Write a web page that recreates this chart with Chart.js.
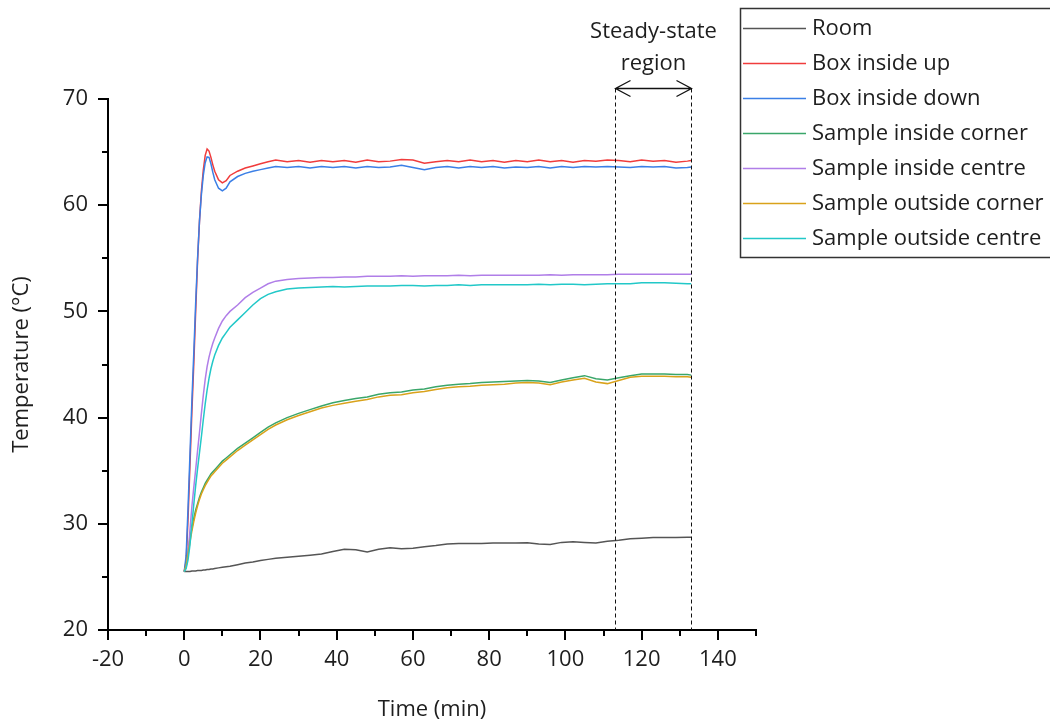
<!DOCTYPE html>
<html>
<head>
<meta charset="utf-8">
<script src="https://cdn.jsdelivr.net/npm/chart.js@4.4.1/dist/chart.umd.min.js"></script>
<style>
  body { margin: 0; background: #fff; }
  #wrap { width: 1050px; height: 721px; }
</style>
</head>
<body>
<div id="wrap"><canvas id="tempChart" width="1050" height="721"></canvas></div>
<script>
// time axis (min) shared by all series
const times = [0, 0.5, 1, 1.5, 2, 2.5, 3, 3.5, 4, 4.5, 5, 5.5, 6, 6.5, 7, 7.5, 8, 9, 10, 11, 12, 14, 16, 18, 20, 22,
    24, 27, 30, 33, 36, 39, 42, 45, 48, 51, 54, 57, 60, 63, 66, 69, 72, 75, 78, 81, 84, 87, 90, 93, 96, 99,
    102, 105, 108, 111, 114, 117, 120, 123, 126, 129, 132, 133];

const room = [25.5, 25.5, 25.5, 25.5, 25.55, 25.55, 25.55, 25.6, 25.6, 25.6, 25.65, 25.65, 25.7, 25.7, 25.75, 25.75, 25.8, 25.85, 25.9, 25.95, 26.0, 26.15, 26.3, 26.4, 26.55, 26.65,
    26.75, 26.85, 26.95, 27.05, 27.15, 27.4, 27.6, 27.55, 27.35, 27.6, 27.75, 27.65, 27.7, 27.85, 27.95, 28.1, 28.15, 28.15, 28.15, 28.2, 28.2, 28.2, 28.22, 28.1, 28.05, 28.25,
    28.3, 28.25, 28.2, 28.35, 28.45, 28.6, 28.65, 28.7, 28.7, 28.72, 28.73, 28.73];

const boxUp = [25.5, 26.5, 30.5, 35.5, 40.5, 45, 50, 54.8, 58.5, 61.3, 63.3, 64.7, 65.3, 65.1, 64.5, 63.8, 63.2, 62.4, 62.1, 62.3, 62.8, 63.2, 63.5, 63.7, 63.9, 64.1,
    64.25, 64.1, 64.2, 64.05, 64.2, 64.1, 64.2, 64.05, 64.25, 64.1, 64.15, 64.3, 64.25, 63.95, 64.1, 64.2, 64.1, 64.25, 64.1, 64.2, 64.05, 64.2, 64.1, 64.25, 64.1, 64.2,
    64.05, 64.2, 64.15, 64.25, 64.2, 64.1, 64.25, 64.15, 64.2, 64.05, 64.15, 64.2];

const boxDown = [25.5, 27, 31.5, 36.5, 41.5, 46, 50.8, 55, 58.5, 61, 62.8, 64, 64.55, 64.5, 63.9, 63.1, 62.4, 61.6, 61.35, 61.6, 62.2, 62.7, 63.0, 63.2, 63.35, 63.5,
    63.65, 63.55, 63.65, 63.5, 63.65, 63.55, 63.65, 63.5, 63.65, 63.55, 63.6, 63.75, 63.55, 63.35, 63.55, 63.65, 63.5, 63.65, 63.55, 63.65, 63.5, 63.6, 63.55, 63.65, 63.5, 63.65,
    63.55, 63.65, 63.6, 63.65, 63.6, 63.55, 63.65, 63.6, 63.65, 63.5, 63.55, 63.6];

const insideCorner = [25.5, 26.2, 27.4, 28.6, 29.6, 30.5, 31.3, 31.9, 32.5, 33.0, 33.4, 33.8, 34.1, 34.4, 34.7, 34.9, 35.1, 35.5, 35.9, 36.2, 36.5, 37.1, 37.6, 38.1, 38.6, 39.1,
    39.5, 40.0, 40.4, 40.75, 41.1, 41.4, 41.6, 41.8, 41.95, 42.2, 42.35, 42.4, 42.6, 42.7, 42.9, 43.05, 43.15, 43.2, 43.3, 43.35, 43.4, 43.45, 43.5, 43.45, 43.3, 43.55,
    43.75, 43.95, 43.65, 43.55, 43.75, 43.95, 44.1, 44.1, 44.1, 44.05, 44.05, 44.0];

const insideCentre = [25.5, 26.0, 27.2, 29.4, 31.6, 33.4, 35.1, 36.9, 38.6, 40.4, 42.1, 43.6, 44.8, 45.7, 46.4, 47.0, 47.5, 48.4, 49.1, 49.6, 50.0, 50.6, 51.3, 51.8, 52.2, 52.6,
    52.85, 53.0, 53.1, 53.15, 53.2, 53.2, 53.25, 53.25, 53.3, 53.3, 53.3, 53.35, 53.3, 53.35, 53.35, 53.35, 53.4, 53.35, 53.4, 53.4, 53.4, 53.4, 53.4, 53.4, 53.45, 53.4,
    53.45, 53.45, 53.45, 53.45, 53.5, 53.5, 53.5, 53.5, 53.5, 53.5, 53.5, 53.5];

const outsideCorner = [25.5, 26.0, 27.1, 28.3, 29.3, 30.2, 31.0, 31.7, 32.3, 32.8, 33.2, 33.6, 33.9, 34.2, 34.5, 34.7, 34.9, 35.3, 35.7, 36.0, 36.3, 36.9, 37.4, 37.9, 38.4, 38.9,
    39.3, 39.8, 40.2, 40.55, 40.9, 41.15, 41.35, 41.55, 41.7, 41.95, 42.1, 42.15, 42.35, 42.45, 42.65, 42.8, 42.9, 42.95, 43.05, 43.1, 43.15, 43.25, 43.3, 43.25, 43.1, 43.35,
    43.55, 43.7, 43.35, 43.2, 43.5, 43.8, 43.9, 43.9, 43.9, 43.85, 43.85, 43.8];

const outsideCentre = [25.5, 25.8, 26.6, 28.0, 29.9, 31.8, 33.6, 35.2, 36.7, 38.2, 39.8, 41.3, 42.6, 43.7, 44.6, 45.3, 45.9, 46.8, 47.5, 48.0, 48.5, 49.2, 49.9, 50.6, 51.2, 51.6,
    51.85, 52.1, 52.2, 52.25, 52.3, 52.35, 52.3, 52.35, 52.4, 52.4, 52.4, 52.45, 52.45, 52.4, 52.45, 52.45, 52.5, 52.45, 52.5, 52.5, 52.5, 52.5, 52.5, 52.55, 52.5, 52.55,
    52.55, 52.5, 52.55, 52.6, 52.6, 52.6, 52.7, 52.7, 52.7, 52.65, 52.6, 52.6];

const seriesNames = ['Room', 'Box inside up', 'Box inside down', 'Sample inside corner', 'Sample inside centre', 'Sample outside corner', 'Sample outside centre'];
const seriesData = [room, boxUp, boxDown, insideCorner, insideCentre, outsideCorner, outsideCentre];
const seriesColors = ['#555555', '#f03c3c', '#3b7fe6', '#3aa66a', '#b07ee8', '#d9a21b', '#22c8c8'];

const xTickLabels = [-20, 0, 20, 40, 60, 80, 100, 120, 140];
const yTickLabels = [20, 30, 40, 50, 60, 70];
const steadyStart = 113;
const steadyEnd = 133;

const FONT = "'Open Sans', sans-serif";
const TEXT = '#1e1e1e';

// axis ticks (major + minor), steady-state marker and the boxed legend
const decorPlugin = {
    id: 'decor',
    afterDraw(chart) {
        const ctx = chart.ctx;
        const xs = chart.scales.x;
        const ys = chart.scales.y;
        const area = chart.chartArea;
        ctx.save();

        // ticks
        ctx.strokeStyle = '#000';
        ctx.lineWidth = 2;
        ctx.beginPath();
        for (let v = -20; v <= 150; v += 10) {
            const px = Math.round(xs.getPixelForValue(v));
            const len = xTickLabels.includes(v) ? 10 : 6;
            ctx.moveTo(px, area.bottom);
            ctx.lineTo(px, area.bottom + len);
        }
        for (let v = 20; v <= 70; v += 5) {
            const py = Math.round(ys.getPixelForValue(v));
            const len = yTickLabels.includes(v) ? 10 : 6;
            ctx.moveTo(area.left, py);
            ctx.lineTo(area.left - len, py);
        }
        ctx.stroke();

        // steady-state region
        const x1 = Math.round(xs.getPixelForValue(steadyStart)) + 0.5;
        const x2 = Math.round(xs.getPixelForValue(steadyEnd)) + 0.5;
        const arrowY = Math.round(area.top - 11) + 0.5;
        ctx.lineWidth = 1;
        ctx.strokeStyle = '#111';
        ctx.setLineDash([4, 3]);
        ctx.beginPath();
        ctx.moveTo(x1, arrowY);
        ctx.lineTo(x1, area.bottom);
        ctx.moveTo(x2, arrowY);
        ctx.lineTo(x2, area.bottom);
        ctx.stroke();
        ctx.setLineDash([]);
        ctx.lineWidth = 1.3;
        ctx.beginPath();
        ctx.moveTo(x1, arrowY);
        ctx.lineTo(x2, arrowY);
        ctx.moveTo(x1 + 15, arrowY - 8);
        ctx.lineTo(x1, arrowY);
        ctx.lineTo(x1 + 15, arrowY + 8);
        ctx.moveTo(x2 - 15, arrowY - 8);
        ctx.lineTo(x2, arrowY);
        ctx.lineTo(x2 - 15, arrowY + 8);
        ctx.stroke();

        ctx.fillStyle = TEXT;
        ctx.font = '22px ' + FONT;
        ctx.textAlign = 'center';
        ctx.textBaseline = 'middle';
        const cx = (x1 + x2) / 2;
        ctx.fillText('Steady-state', cx, 32);
        ctx.fillText('region', cx, 64);

        // legend box
        ctx.strokeStyle = '#333';
        ctx.lineWidth = 1.5;
        ctx.strokeRect(740.5, 8.5, 400, 249);
        ctx.textAlign = 'left';
        seriesNames.forEach((name, i) => {
            const ly = 28 + i * 35;
            ctx.strokeStyle = seriesColors[i];
            ctx.lineWidth = 1.5;
            ctx.beginPath();
            ctx.moveTo(743, ly + 0.5);
            ctx.lineTo(806, ly + 0.5);
            ctx.stroke();
            ctx.fillStyle = TEXT;
            ctx.fillText(name, 812, ly + 1);
        });

        ctx.restore();
    }
};

const datasets = seriesNames.map((name, i) => ({
    label: name,
    data: times.map((t, j) => ({ x: t, y: seriesData[i][j] })),
    borderColor: seriesColors[i],
    backgroundColor: seriesColors[i],
    borderWidth: 1.5,
    pointRadius: 0,
    tension: 0,
    order: seriesNames.length - i
}));

new Chart(document.getElementById('tempChart'), {
    type: 'line',
    data: { datasets: datasets },
    options: {
        responsive: false,
        animation: false,
        layout: { padding: { left: 0, right: 294, top: 99, bottom: 0 } },
        plugins: {
            legend: { display: false },
            tooltip: { enabled: false }
        },
        scales: {
            x: {
                type: 'linear',
                min: -20,
                max: 150,
                grid: { display: false },
                border: { display: true, color: '#000', width: 2 },
                afterBuildTicks: (scale) => { scale.ticks = xTickLabels.map(v => ({ value: v })); },
                ticks: {
                    padding: 9,
                    autoSkip: false,
                    color: TEXT,
                    font: { family: FONT, size: 22 },
                    maxRotation: 0
                },
                title: {
                    display: true,
                    text: 'Time (min)',
                    color: TEXT,
                    font: { family: FONT, size: 22, lineHeight: 1 },
                    padding: { top: 0, bottom: 0 }
                },
                afterFit: (scale) => { scale.height = 91; }
            },
            y: {
                type: 'linear',
                min: 20,
                max: 70,
                grid: { display: false },
                border: { display: true, color: '#000', width: 2 },
                afterBuildTicks: (scale) => { scale.ticks = yTickLabels.map(v => ({ value: v })); },
                ticks: {
                    padding: 12,
                    color: TEXT,
                    font: { family: FONT, size: 22 }
                },
                title: {
                    display: true,
                    text: 'Temperature (°C)',
                    color: TEXT,
                    font: { family: FONT, size: 22, lineHeight: 1 },
                    padding: { top: 11, bottom: 0 }
                },
                afterFit: (scale) => { scale.width = 108; }
            }
        }
    },
    plugins: [decorPlugin]
});
</script>
</body>
</html>
